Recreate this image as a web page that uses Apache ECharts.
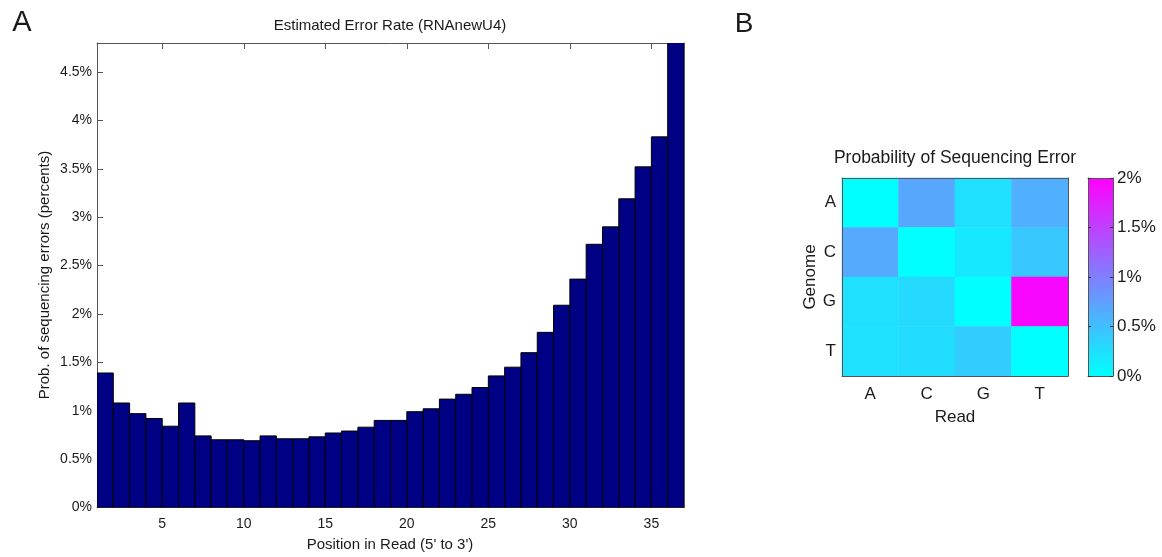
<!DOCTYPE html>
<html><head><meta charset="utf-8">
<script src="https://cdn.jsdelivr.net/npm/echarts@6/dist/echarts.min.js"></script>
<style>html,body{margin:0;padding:0;background:#fff}#c{width:1162px;height:557px}</style>
</head><body><div id="c"></div>
<script>
// ---- Panel A data ----
const positions = [1,2,3,4,5,6,7,8,9,10,11,12,13,14,15,16,17,18,19,20,21,22,23,24,25,26,27,28,29,30,31,32,33,34,35,36];
const errorRates = [1.39,1.08,0.97,0.92,0.84,1.08,0.74,0.70,0.70,0.69,0.74,0.71,0.71,0.73,0.77,0.79,0.83,0.90,0.90,0.99,1.02,1.12,1.17,1.24,1.36,1.45,1.60,1.81,2.09,2.36,2.72,2.90,3.19,3.52,3.83,4.90];
const xTicks = [5,10,15,20,25,30,35];
const yTicks = [0,0.5,1,1.5,2,2.5,3,3.5,4,4.5];
// ---- Panel B data (rows = genome base, columns = read base) ----
const readBases = ['A','C','G','T'];
const genomeBases = ['A','C','G','T'];
const genomeA = [0.00,0.69,0.24,0.63];
const genomeC = [0.67,0.00,0.17,0.44];
const genomeG = [0.24,0.29,0.00,1.95];
const genomeT = [0.23,0.27,0.40,0.00];
const colorbarTicks = [0,0.5,1,1.5,2];

const FONT = "'Liberation Sans', Arial, Helvetica, sans-serif";
const AX = '#555';
const TXT = '#1a1a1a';
const pct = v => v + '%';

const heatRows = [genomeA, genomeC, genomeG, genomeT];
const heatData = [];
heatRows.forEach((row, r) => row.forEach((v, c) => heatData.push([c, r, v])));

const chart = echarts.init(document.getElementById('c'), null, {renderer: 'canvas'});
const boxAxis = (extra) => Object.assign({
  axisLine: {show: true, onZero: false, lineStyle: {color: AX, width: 1}},
  splitLine: {show: false}
}, extra);

chart.setOption({
  animation: false,
  textStyle: {fontFamily: FONT},
  grid: [
    {left: 97, top: 43, width: 587, height: 464.5},
    {left: 842, top: 178, width: 226, height: 198},
    {left: 1088, top: 178, width: 25, height: 198}
  ],
  xAxis: [
    boxAxis({gridIndex: 0, type: 'value', min: 1, max: 37, position: 'bottom',
      axisTick: {inside: true, length: 6, customValues: xTicks, lineStyle: {color: AX}},
      axisLabel: {customValues: xTicks, fontSize: 14, margin: 10, color: TXT, fontFamily: FONT}}),
    boxAxis({gridIndex: 0, type: 'value', min: 1, max: 37, position: 'top',
      axisTick: {inside: true, length: 6, customValues: xTicks, lineStyle: {color: AX}},
      axisLabel: {show: false}}),
    boxAxis({gridIndex: 1, type: 'category', data: readBases, position: 'bottom', z: 5,
      axisTick: {inside: true, length: 3, alignWithLabel: true, lineStyle: {color: '#333'}},
      axisLabel: {fontSize: 17, margin: 10, color: TXT, fontFamily: FONT}}),
    boxAxis({gridIndex: 1, type: 'category', data: readBases, position: 'top', z: 5,
      axisTick: {inside: true, length: 3, alignWithLabel: true, lineStyle: {color: '#333'}},
      axisLabel: {show: false}}),
    boxAxis({gridIndex: 2, type: 'value', min: 0, max: 1, position: 'bottom', z: 5,
      axisTick: {show: false}, axisLabel: {show: false}}),
    boxAxis({gridIndex: 2, type: 'value', min: 0, max: 1, position: 'top', z: 5,
      axisTick: {show: false}, axisLabel: {show: false}})
  ],
  yAxis: [
    boxAxis({gridIndex: 0, type: 'value', min: 0, max: 4.8, position: 'left',
      axisTick: {inside: true, length: 6, customValues: yTicks, lineStyle: {color: AX}},
      axisLabel: {customValues: yTicks, formatter: pct, fontSize: 14, margin: 5, color: TXT, fontFamily: FONT}}),
    boxAxis({gridIndex: 0, type: 'value', min: 0, max: 4.8, position: 'right',
      axisTick: {inside: true, length: 6, customValues: yTicks, lineStyle: {color: AX}},
      axisLabel: {show: false}}),
    boxAxis({gridIndex: 1, type: 'category', data: genomeBases, inverse: true, position: 'left', z: 5,
      axisTick: {inside: true, length: 3, alignWithLabel: true, lineStyle: {color: '#333'}},
      axisLabel: {fontSize: 17, margin: 6, color: TXT, fontFamily: FONT}}),
    boxAxis({gridIndex: 1, type: 'category', data: genomeBases, inverse: true, position: 'right', z: 5,
      axisTick: {inside: true, length: 3, alignWithLabel: true, lineStyle: {color: '#333'}},
      axisLabel: {show: false}}),
    boxAxis({gridIndex: 2, type: 'value', min: 0, max: 2, position: 'right', z: 5,
      axisTick: {inside: true, length: 3, customValues: colorbarTicks, lineStyle: {color: '#333'}},
      axisLabel: {customValues: colorbarTicks, formatter: pct, fontSize: 17, margin: 4, color: TXT, fontFamily: FONT}}),
    boxAxis({gridIndex: 2, type: 'value', min: 0, max: 2, position: 'left', z: 5,
      axisTick: {inside: true, length: 3, customValues: colorbarTicks, lineStyle: {color: '#333'}},
      axisLabel: {show: false}})
  ],
  visualMap: {
    show: false, type: 'continuous', min: 0, max: 2, seriesIndex: 1, dimension: 2,
    inRange: {color: ['#00ffff', '#ff00ff']}
  },
  series: [
    {
      type: 'custom', xAxisIndex: 0, yAxisIndex: 0, clip: true,
      data: positions.map((p, i) => [p, errorRates[i]]),
      encode: {x: 0, y: 1},
      renderItem: function (params, api) {
        const x = api.value(0), v = api.value(1);
        const p0 = api.coord([x, 0]);
        const p1 = api.coord([x + 1, v]);
        return {
          type: 'rect',
          shape: {x: p0[0], y: p1[1], width: p1[0] - p0[0], height: p0[1] - p1[1]},
          style: {fill: '#000084', stroke: '#000000', lineWidth: 1}
        };
      }
    },
    {
      type: 'heatmap', xAxisIndex: 2, yAxisIndex: 2,
      data: heatData,
      itemStyle: {borderWidth: 0},
      emphasis: {disabled: true}
    },
    {
      type: 'custom', xAxisIndex: 4, yAxisIndex: 4,
      data: [[0, colorbarTicks[colorbarTicks.length - 1]]],
      renderItem: function (params, api) {
        const p0 = api.coord([0, 0]);
        const p1 = api.coord([1, api.value(1)]);
        return {
          type: 'rect',
          shape: {x: p0[0], y: p1[1], width: p1[0] - p0[0], height: p0[1] - p1[1]},
          style: {fill: {type: 'linear', x: 0, y: 1, x2: 0, y2: 0,
            colorStops: [{offset: 0, color: '#00ffff'}, {offset: 1, color: '#ff00ff'}]}}
        };
      }
    }
  ],
  graphic: [
    {type: 'text', x: 22, y: 23, style: {text: 'A', font: '29px ' + FONT, fill: TXT, align: 'center', verticalAlign: 'middle'}},
    {type: 'text', x: 744, y: 24, style: {text: 'B', font: '28px ' + FONT, fill: TXT, align: 'center', verticalAlign: 'middle'}},
    {type: 'text', x: 390, y: 26, style: {text: 'Estimated Error Rate (RNAnewU4)', font: '15px ' + FONT, fill: TXT, align: 'center', verticalAlign: 'middle'}},
    {type: 'text', x: 390, y: 545, style: {text: "Position in Read (5' to 3')", font: '15px ' + FONT, fill: TXT, align: 'center', verticalAlign: 'middle'}},
    {type: 'text', x: 45, y: 275, rotation: Math.PI / 2, style: {text: 'Prob. of sequencing errors (percents)', font: '15px ' + FONT, fill: TXT, align: 'center', verticalAlign: 'middle'}},
    {type: 'text', x: 955, y: 158, style: {text: 'Probability of Sequencing Error', font: '17.5px ' + FONT, fill: TXT, align: 'center', verticalAlign: 'middle'}},
    {type: 'text', x: 955, y: 417, style: {text: 'Read', font: '17px ' + FONT, fill: TXT, align: 'center', verticalAlign: 'middle'}},
    {type: 'text', x: 810, y: 277, rotation: Math.PI / 2, style: {text: 'Genome', font: '17px ' + FONT, fill: TXT, align: 'center', verticalAlign: 'middle'}}
  ]
});
</script>
</body></html>
